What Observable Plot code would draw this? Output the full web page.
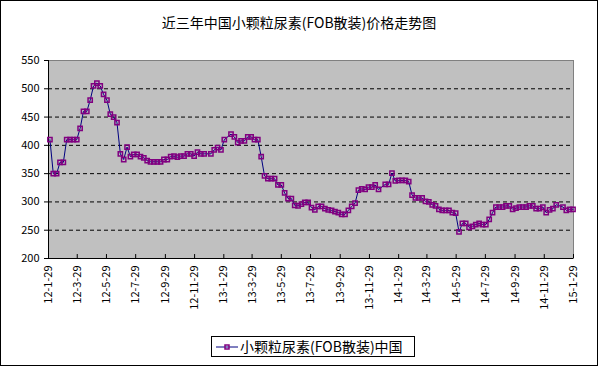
<!DOCTYPE html>
<html>
<head>
<meta charset="utf-8">
<script src="https://cdn.jsdelivr.net/npm/d3@7"></script>
<script src="https://cdn.jsdelivr.net/npm/@observablehq/plot@0.6"></script>
<style>
  html, body { margin: 0; padding: 0; background: white; }
  #wrap { position: relative; width: 598px; height: 366px; overflow: hidden; background: white;
          font-family: "Noto Sans CJK SC", sans-serif; }
  #border { position: absolute; left: 0; top: 0; width: 598px; height: 366px; box-sizing: border-box;
            border: 1px solid black; pointer-events: none; }
  #title { position: absolute; left: 0; top: 12px; width: 598px; text-align: center; font-size: 14px; color: black; }
  #chart { position: absolute; left: 0; top: 0; }
  #legend { position: absolute; left: 211px; top: 336px; width: 204px; height: 21px; box-sizing: border-box;
            border: 1px solid black; font-size: 14px; line-height: 19px; white-space: nowrap; }
  #legend svg { position: absolute; left: 4px; top: 5px; }
  #legend span { position: absolute; left: 28px; top: 0; }
</style>
</head>
<body>
<div id="wrap">
  <div id="chart"></div>
  <div id="title"></div>
  <div id="legend"></div>
  <div id="border"></div>
</div>
<script>
const chartTitle = "近三年中国小颗粒尿素(FOB散装)价格走势图";
const seriesName = "小颗粒尿素(FOB散装)中国";
const startDate = "2012-02-01";
// weekly prices (USD/t), null = week without a quote
const prices = [
  410, 350, 350, 370, 370, 410, 410, 410, 410, 430,
  460, 460, 480, 505, 510, 505, 490, 480, 455, 450,
  440, 385, 375, 397, 380, 384, 384, 380, 378, 373,
  371, 371, 371, 371, 375, 375, 380, 381, 379, 381,
  381, 385, 385, 381, 388, 385, 385, null, 385, 392,
  396, 392, 410, null, 420, 415, 405, 408, 408, 415,
  415, 410, 410, 380, 346, 341, 341, 341, 330, 330,
  316, 306, 306, 294, 293, 296, 299, 299, 290, 286,
  292, 292, 288, 286, 285, 283, 281, 278, 278, 285,
  292, 298, 321, 323, 322, 326, 326, 330, 322, null,
  331, 331, 351, 337, 338, 338, 338, 336, 312, 307,
  307, 307, 301, 300, 295, 293, 287, 285, 285, 285,
  281, 280, 247, 262, 262, 255, 257, 260, 262, 260,
  260, 269, 281, 291, 291, 291, 293, 293, 287, 289,
  291, 291, 291, 293, 293, 288, 288, 291, 281, 286,
  288, 295, null, 291, 285, 287, 287
];
const yTicks = [200, 250, 300, 350, 400, 450, 500, 550];
const gridValues = [250, 300, 350, 400, 450, 500];
const xTickLabels = ["12-1-29","12-3-29","12-5-29","12-7-29","12-9-29","12-11-29",
  "13-1-29","13-3-29","13-5-29","13-7-29","13-9-29","13-11-29",
  "14-1-29","14-3-29","14-5-29","14-7-29","14-9-29","14-11-29","15-1-29"];

const parseLabel = s => { const [yy, m, d] = s.split("-").map(Number); return new Date(Date.UTC(2000 + yy, m - 1, d)); };
const tickDates = xTickLabels.map(parseLabel);
const labelByTime = new Map(tickDates.map((d, i) => [d.getTime(), xTickLabels[i]]));
const t0 = Date.parse(startDate);
const data = prices.map((v, i) => ({date: new Date(t0 + i * 7 * 864e5), price: v})).filter(d => d.price != null);

const font = '"Noto Sans CJK SC", sans-serif';
const chart = Plot.plot({
  width: 598, height: 330,
  marginTop: 60, marginLeft: 48, marginRight: 25, marginBottom: 72,
  x: {type: "utc", domain: [tickDates[0], tickDates[tickDates.length - 1]]},
  y: {domain: [200, 550]},
  style: {fontFamily: font, fontSize: "11px", color: "black", background: "transparent", overflow: "visible"},
  marks: [
    Plot.frame({fill: "#c0c0c0", stroke: "#808080"}),
    Plot.ruleY(gridValues, {stroke: "black", strokeDasharray: "4,3"}),
    Plot.ruleY([200], {stroke: "black"}),
    Plot.ruleX([tickDates[0]], {stroke: "black"}),
    Plot.ruleX(tickDates, {y1: 200, y2: 207, stroke: "black"}),
    Plot.axisY({ticks: yTicks, tickSize: 4, tickPadding: 5, label: null, tickFormat: d => String(d)}),
    Plot.axisX({ticks: tickDates, tickFormat: d => labelByTime.get(d.getTime()), tickRotate: -90,
                tickSize: 0, tickPadding: 7, label: null}),
    Plot.line(data, {x: "date", y: "price", stroke: "#000080", strokeWidth: 1}),
    Plot.dot(data, {x: "date", y: "price", symbol: "square", r: 2.4, stroke: "#800080", strokeWidth: 1.5, fill: "none"})
  ]
});
document.getElementById("chart").appendChild(chart);
document.getElementById("title").textContent = chartTitle;
const legend = document.getElementById("legend");
legend.innerHTML = '<svg width="22" height="10"><line x1="0" y1="5" x2="22" y2="5" stroke="#000080" stroke-width="1"/>' +
  '<rect x="9" y="3" width="4" height="4" fill="none" stroke="#800080" stroke-width="1.5"/></svg><span></span>';
legend.querySelector("span").textContent = seriesName;
</script>
</body>
</html>
